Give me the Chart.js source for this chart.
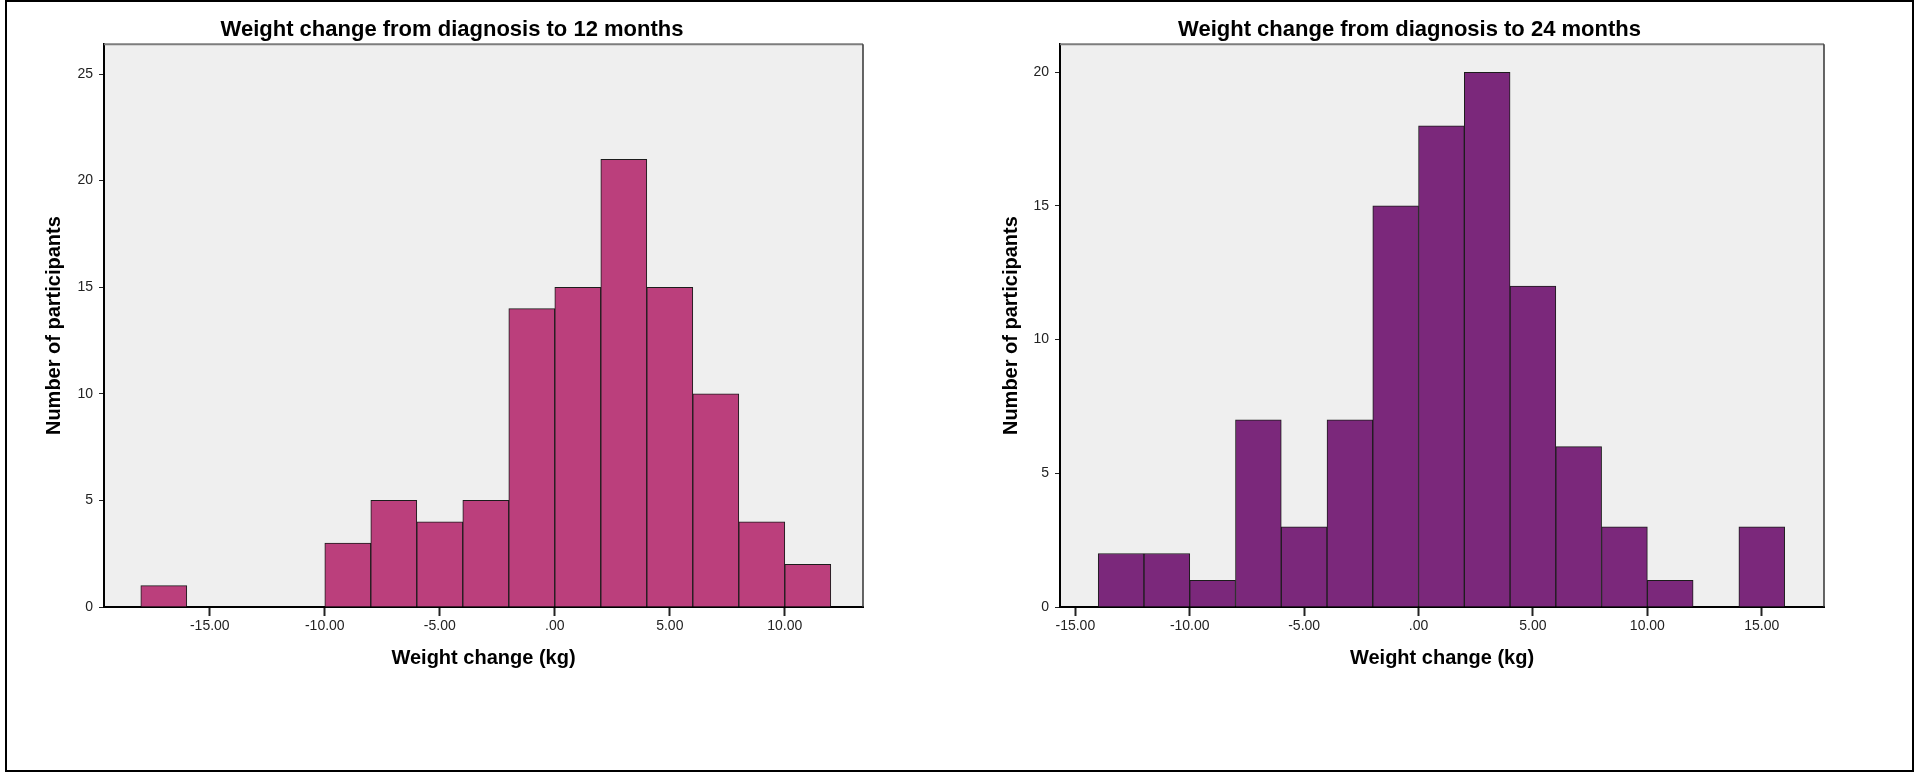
<!DOCTYPE html>
<html>
<head>
<meta charset="utf-8">
<script src="https://cdn.jsdelivr.net/npm/chart.js@4.4.1/dist/chart.umd.min.js"></script>
<style>
  html, body { margin: 0; padding: 0; background: #fff; }
  body { width: 1917px; height: 773px; position: relative; overflow: hidden; }
  .frame { position: absolute; left: 5px; top: 0; width: 1909px; height: 772px; border: 2px solid #000; box-sizing: border-box; }
  canvas { position: absolute; top: 0; }
  #chart12 { left: 0; }
  #chart24 { left: 960px; }
</style>
</head>
<body>
<div class="frame"></div>
<canvas id="chart12" width="869" height="773"></canvas>
<canvas id="chart24" width="870" height="773"></canvas>
<script>
// weight change histograms, 2 kg bins (lower edge of each bin)
const binWidth = 2;

const bins12 = [-18, -16, -14, -12, -10, -8, -6, -4, -2, 0, 2, 4, 6, 8, 10];
const counts12 = [1, 0, 0, 0, 3, 5, 4, 5, 14, 15, 21, 15, 10, 4, 2];

const bins24 = [-14, -12, -10, -8, -6, -4, -2, 0, 2, 4, 6, 8, 10, 12, 14];
const counts24 = [2, 2, 1, 7, 3, 7, 15, 18, 20, 12, 6, 3, 1, 0, 3];

const xTitle = 'Weight change (kg)';
const yTitle = 'Number of participants';

const FONT = "'Liberation Sans', Arial, sans-serif";

// grey panel behind the bars plus the top/right frame of the plot
const plotBox = {
  id: 'plotBox',
  beforeDraw(chart) {
    const { ctx, chartArea: a } = chart;
    ctx.save();
    ctx.fillStyle = '#efefef';
    ctx.fillRect(a.left, a.top, a.right - a.left, a.bottom - a.top);
    ctx.restore();
  },
  afterDraw(chart) {
    const { ctx, chartArea: a } = chart;
    ctx.save();
    ctx.strokeStyle = '#7d7d7d';
    ctx.lineWidth = 2;
    ctx.beginPath();
    ctx.moveTo(a.left, a.top);
    ctx.lineTo(a.right, a.top);
    ctx.stroke();
    ctx.strokeStyle = '#333';
    ctx.lineWidth = 1.5;
    ctx.beginPath();
    ctx.moveTo(a.right, a.top);
    ctx.lineTo(a.right, a.bottom);
    ctx.stroke();
    ctx.restore();
  }
};

function drawHistogram(canvasId, cfg) {
  const points = cfg.bins.map((start, i) => ({ x: start + binWidth / 2, y: cfg.counts[i] }));

  return new Chart(canvasId, {
    type: 'bar',
    data: {
      datasets: [{
        data: points,
        backgroundColor: cfg.color,
        borderColor: '#1c1c1c',
        borderWidth: 1,
        barPercentage: 1,
        categoryPercentage: 1
      }]
    },
    options: {
      responsive: false,
      animation: false,
      devicePixelRatio: 1,
      layout: { padding: { left: cfg.padLeft, right: 6, top: 0, bottom: 0 } },
      plugins: {
        legend: { display: false },
        tooltip: { enabled: false },
        title: {
          display: true,
          text: cfg.title,
          color: '#000',
          font: { family: FONT, size: 22, weight: 'bold' },
          padding: { top: 16.4, bottom: 1.4 }
        }
      },
      scales: {
        x: {
          type: 'linear',
          min: cfg.xMin,
          max: cfg.xMax,
          offset: false,
          grid: { drawOnChartArea: false, offset: false, tickLength: 9, tickWidth: 2, tickColor: '#222' },
          border: { display: true, color: '#000', width: 2 },
          ticks: {
            stepSize: 5,
            includeBounds: false,
            padding: 2,
            color: '#222',
            font: { family: FONT, size: 14 },
            callback: v => (v === 0 ? '.00' : v.toFixed(2))
          },
          title: {
            display: true,
            text: xTitle,
            color: '#000',
            font: { family: FONT, size: 20, weight: 'bold' },
            padding: { top: 0, bottom: 103 }
          },
          afterFit: s => { s.height = 166; }
        },
        y: {
          min: 0,
          max: cfg.yMax,
          grid: { drawOnChartArea: false, tickLength: 5, tickWidth: 1, tickColor: '#222' },
          border: { display: true, color: '#000', width: 2 },
          ticks: {
            stepSize: 5,
            includeBounds: false,
            padding: 6,
            color: '#222',
            font: { family: FONT, size: 14 }
          },
          title: {
            display: true,
            text: yTitle,
            color: '#000',
            font: { family: FONT, size: 20, weight: 'bold' },
            padding: { top: cfg.yTitlePad, bottom: 0 }
          },
          afterFit: s => { s.width = cfg.yAxisWidth; }
        }
      }
    },
    plugins: [plotBox]
  });
}

drawHistogram('chart12', {
  title: 'Weight change from diagnosis to 12 months',
  bins: bins12,
  counts: counts12,
  color: '#bb3f7c',
  xMin: -19.6,
  xMax: 13.4,
  yMax: 26.4,
  padLeft: 41,
  yAxisWidth: 63,
  yTitlePad: 1
});

drawHistogram('chart24', {
  title: 'Weight change from diagnosis to 24 months',
  bins: bins24,
  counts: counts24,
  color: '#7b287b',
  xMin: -15.67,
  xMax: 17.72,
  yMax: 21.05,
  padLeft: 35,
  yAxisWidth: 65,
  yTitlePad: 4
});
</script>
</body>
</html>
